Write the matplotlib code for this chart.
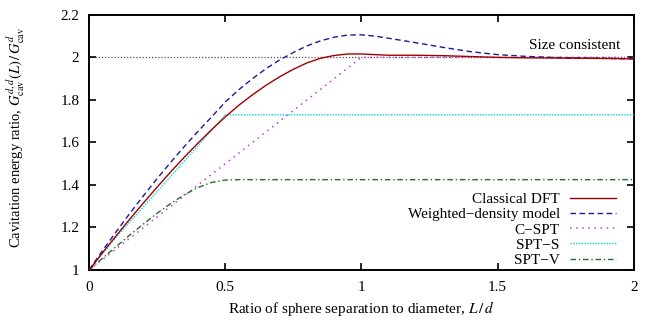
import numpy as np
import matplotlib
matplotlib.use("Agg")
import matplotlib.pyplot as plt

plt.rcParams["font.family"] = ["Liberation Serif", "DejaVu Serif"]
plt.rcParams["mathtext.fontset"] = "stix"

# values (L/d -> energy ratio)
L_dft = [0, 0.05, 0.1, 0.15, 0.2, 0.25, 0.3, 0.35, 0.4, 0.45, 0.5, 0.55, 0.6,
         0.65, 0.7, 0.75, 0.8, 0.85, 0.9, 0.95, 1.0, 1.1, 1.2, 1.3, 1.4, 1.5,
         1.6, 1.7, 1.8, 1.9, 2.0]
G_dft = [1.0, 1.082, 1.162, 1.24, 1.316, 1.39, 1.462, 1.531, 1.597, 1.66,
         1.72, 1.775, 1.824, 1.869, 1.909, 1.944, 1.974, 1.996, 2.009, 2.016,
         2.016, 2.01, 2.01, 2.008, 2.004, 2.0, 1.998, 1.997, 1.996, 1.995,
         1.993]

L_wdm = [0, 0.05, 0.1, 0.15, 0.2, 0.25, 0.3, 0.35, 0.4, 0.45, 0.5, 0.55, 0.6,
         0.65, 0.7, 0.75, 0.8, 0.85, 0.9, 0.95, 1.0, 1.05, 1.1, 1.2, 1.3, 1.4,
         1.5, 1.6, 1.7, 1.8, 1.9, 2.0]
G_wdm = [1.0, 1.092, 1.181, 1.267, 1.35, 1.43, 1.507, 1.581, 1.652, 1.72,
         1.79, 1.848, 1.9, 1.947, 1.988, 2.023, 2.054, 2.078, 2.095, 2.105,
         2.106, 2.1, 2.09, 2.069, 2.047, 2.027, 2.013, 2.005, 2.0, 1.997,
         1.995, 1.993]

L_cspt = [0, 1.0, 2.0]
G_cspt = [1.0, 2.0, 2.0]

L_spts = [0, 0.1, 0.2, 0.3, 0.4, 0.5, 2.0]
G_spts = [1.0, 1.155, 1.298, 1.44, 1.585, 1.73, 1.73]

L_sptv = [0, 0.05, 0.1, 0.15, 0.2, 0.25, 0.3, 0.35, 0.4, 0.45, 0.5, 0.55, 2.0]
G_sptv = [1.0, 1.056, 1.111, 1.165, 1.217, 1.267, 1.313, 1.354, 1.388,
          1.412, 1.423, 1.425, 1.425]

size_consistent = 2.0

fig = plt.figure(figsize=(6.5, 3.23), dpi=100)
ax = fig.add_axes([0.137, 0.164, 0.838, 0.79])

ax.axhline(size_consistent, color="#555555", lw=0.9, ls=(0, (1, 1.5)), zorder=1)
ax.text(1.95, 2.026, "Size consistent", ha="right", va="bottom", fontsize=11)

ax.plot(L_dft, G_dft, color="#a00000", lw=1.0, label="Classical DFT", zorder=5)
ax.plot(L_wdm, G_wdm, color="#1a1a9a", lw=1.0, ls=(0, (4, 2.5)),
        label="Weighted\u2212density model", zorder=4)
ax.plot(L_cspt, G_cspt, color="#d030f0", lw=1.1, ls=(0, (1, 3)),
        label="C\u2212SPT", zorder=3)
ax.plot(L_spts, G_spts, color="#00d8d8", lw=1.0, ls=(0, (1, 1)),
        label="SPT\u2212S", zorder=3)
ax.plot(L_sptv, G_sptv, color="#1f701f", lw=1.0, ls=(0, (4, 2, 1, 2)),
        label="SPT\u2212V", zorder=3)

ax.set_xlim(0, 2)
ax.set_ylim(1, 2.2)
ax.set_xticks([0, 0.5, 1, 1.5, 2])
ax.set_xticklabels(["0", "0.5", "1", "1.5", "2"])
ax.set_yticks([1, 1.2, 1.4, 1.6, 1.8, 2, 2.2])
ax.set_yticklabels(["1", "1.2", "1.4", "1.6", "1.8", "2", "2.2"])
ax.tick_params(direction="in", length=5, width=1.2, top=True, right=True,
               labelsize=11)
ax.tick_params(axis="x", pad=8)
ax.tick_params(axis="y", pad=7)
for s in ax.spines.values():
    s.set_linewidth(1.4)

ax.set_xlabel("Ratio of sphere separation to diameter, $L\\,/\\,d$", fontsize=11)
ax.set_ylabel("Cavitation energy ratio, $G^{d,d}_{\\mathrm{cav}}(L)\\,/\\,G^{d}_{\\mathrm{cav}}$",
              fontsize=10.5)
ax.yaxis.set_label_coords(-0.113, 0.52)
ax.xaxis.set_label_coords(0.5, -0.115)

leg = ax.legend(loc="lower right", bbox_to_anchor=(0.968, 0.012), frameon=False,
                markerfirst=False, fontsize=11, handlelength=3.0,
                handletextpad=0.7, labelspacing=0.1, borderpad=0,
                borderaxespad=0)

fig.savefig("out.png", dpi=100)
